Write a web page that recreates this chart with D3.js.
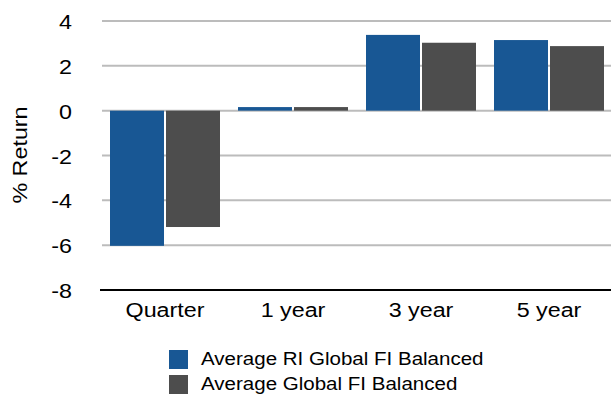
<!DOCTYPE html>
<html><head><meta charset="utf-8">
<script src="https://cdn.jsdelivr.net/npm/d3@7"></script>
<style>body{margin:0;background:#fff}svg{display:block;font-family:"Liberation Sans",Arial,sans-serif}</style>
</head><body>
<svg id="c" width="611" height="394"></svg>
<script>
const categories = ["Quarter", "1 year", "3 year", "5 year"];
const seriesNames = ["Average RI Global FI Balanced", "Average Global FI Balanced"];
const riValues = [-6.03, 0.16, 3.38, 3.15];
const globalValues = [-5.19, 0.16, 3.03, 2.88];
const yTicks = [4, 2, 0, -2, -4, -6, -8];
const colors = ["#185794", "#4d4d4d"];

const SX = 1.11;
const svg = d3.select("#c");
const y = d3.scaleLinear().domain([-8, 4]).range([290, 21]);
const x = d3.scaleBand().domain(categories).range([101, 613]);
const xs = d3.scaleBand().domain(seriesNames).range([9, 119]).paddingInner(2/56);

// gridlines
svg.append("g").selectAll("line").data(yTicks.filter(t => t !== -8)).join("line")
  .attr("x1", 102).attr("x2", 611)
  .attr("y1", d => y(d)).attr("y2", d => y(d))
  .attr("stroke", "#bcbcbc").attr("stroke-width", 2);

const series = [riValues, globalValues];
series.forEach((vals, si) => {
  svg.append("g").selectAll("rect").data(categories).join("rect")
    .attr("x", (c) => x(c) + xs(seriesNames[si]))
    .attr("width", xs.bandwidth())
    .attr("y", (c, i) => y(Math.max(0, vals[i])))
    .attr("height", (c, i) => Math.abs(y(vals[i]) - y(0)))
    .attr("fill", colors[si]);
});

// bottom axis line
svg.append("line").attr("x1", 100).attr("x2", 611).attr("y1", y(-8)).attr("y2", y(-8))
  .attr("stroke", "#000").attr("stroke-width", 2);

// y tick labels
svg.append("g").selectAll("text").data(yTicks).join("text")
  .attr("transform", d => `translate(72,${y(d) + 8}) scale(${SX},1)`)
  .attr("text-anchor", "end").attr("font-size", 21).attr("fill", "#000")
  .text(d => d);

// x labels
svg.append("g").selectAll("text").data(categories).join("text")
  .attr("transform", d => `translate(${x(d) + x.bandwidth() / 2},317) scale(${SX},1)`)
  .attr("text-anchor", "middle").attr("font-size", 21).attr("fill", "#000")
  .text(d => d);

// y title
svg.append("text").attr("transform", `translate(27,155) rotate(-90) scale(${SX},1)`)
  .attr("text-anchor", "middle").attr("font-size", 21).attr("fill", "#000")
  .text("% Return");

// legend
const lg = svg.append("g");
seriesNames.forEach((n, i) => {
  lg.append("rect").attr("x", 169).attr("y", 350 + i * 25).attr("width", 19).attr("height", 19).attr("fill", colors[i]);
  lg.append("text").attr("transform", `translate(201,${365 + i * 25}) scale(${SX},1)`)
    .attr("font-size", 18.5).attr("fill", "#000").text(n);
});
</script>
</body></html>
